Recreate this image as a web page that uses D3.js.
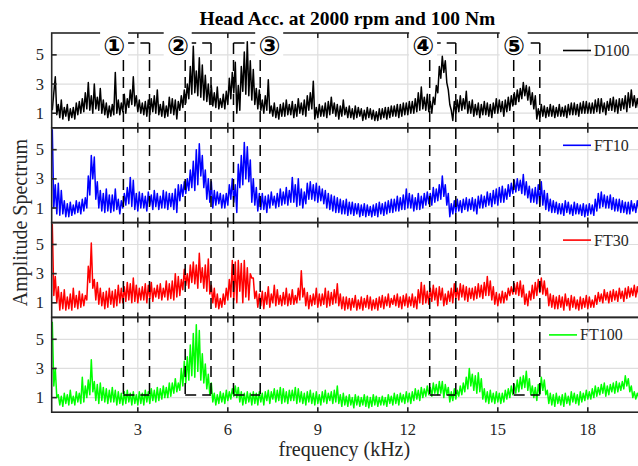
<!DOCTYPE html>
<html>
<head>
<meta charset="utf-8">
<script src="https://cdn.jsdelivr.net/npm/d3@7"></script>
<style>
  body { margin: 0; background: #fff; }
  svg { display: block; }
</style>
</head>
<body>
<svg id="chart" width="638" height="466"></svg>
<script>
// ---- data -------------------------------------------------------------
const chartTitle = "Head Acc. at 2000 rpm and 100 Nm";
const xLabel = "frequency (kHz)";
const yLabel = "Amplitude Spectrum";
const seriesNames = ["D100", "FT10", "FT30", "FT100"];

// spectra sampled every 0.05 kHz starting at 0.15 kHz (20 samples per row = 1 kHz)
const freqStart = 0.15;
const freqStep = 0.05;

const d100 = [
  1.2, 2.4, 3.5, 0.9, 1.6, 0.7, 1.9, 0.6, 1.4, 0.8, 1.6, 0.5, 1.3, 0.7, 1.4, 0.6, 1.7, 0.9, 1.8, 1.0,
  2.0, 1.1, 2.4, 1.3, 3.1, 1.2, 2.2, 1.0, 3.0, 1.3, 2.1, 1.2, 2.7, 1.0, 1.9, 0.9, 1.7, 0.7, 1.5, 0.8,
  1.6, 0.9, 3.8, 1.0, 1.9, 0.9, 1.7, 1.1, 2.3, 1.0, 2.0, 1.4, 2.6, 1.6, 3.5, 1.5, 2.2, 1.1, 1.9, 1.0,
  1.7, 0.9, 1.8, 0.8, 1.9, 0.9, 2.0, 1.1, 2.2, 1.0, 2.6, 0.9, 1.6, 0.8, 1.8, 0.7, 1.5, 0.8, 2.1, 1.0,
  2.0, 0.9, 1.9, 0.6, 1.8, 1.2, 2.2, 1.4, 2.6, 1.7, 3.0, 2.0, 4.2, 2.3, 5.6, 2.4, 3.9, 2.2, 4.8, 2.1,
  4.3, 1.9, 3.6, 1.8, 3.0, 1.6, 2.9, 1.5, 2.4, 1.4, 2.8, 1.3, 2.0, 1.4, 2.3, 1.3, 2.5, 1.6, 3.4, 2.0,
  3.8, 2.4, 4.5, 1.0, 2.9, 1.2, 4.2, 2.5, 5.2, 2.3, 5.9, 2.2, 4.6, 1.9, 4.0, 1.6, 2.7, 1.3, 2.6, 1.2,
  1.9, 1.0, 2.2, 1.2, 3.3, 1.0, 1.5, 0.8, 1.7, 0.7, 1.4, 0.6, 1.6, 0.8, 1.7, 0.8, 1.9, 0.9, 1.6, 0.9,
  1.8, 0.7, 1.6, 0.8, 2.0, 1.0, 1.7, 0.9, 1.9, 0.8, 2.2, 1.2, 2.4, 1.3, 3.2, 0.6, 1.4, 0.7, 1.6, 0.8,
  1.5, 0.8, 1.7, 0.7, 1.8, 0.9, 2.1, 1.0, 1.7, 0.8, 1.6, 0.6, 1.5, 0.8, 1.9, 0.9, 1.4, 0.7, 1.5, 0.7,
  1.3, 0.6, 1.5, 0.7, 1.4, 0.8, 1.3, 0.5, 1.2, 0.6, 1.4, 0.7, 1.3, 0.6, 1.2, 0.5, 1.1, 0.5, 1.3, 0.6,
  1.3, 0.7, 1.4, 0.6, 1.4, 0.7, 1.5, 0.8, 1.5, 0.8, 1.6, 0.7, 1.6, 0.8, 1.7, 0.9, 1.7, 0.9, 1.8, 1.0,
  1.8, 1.0, 2.0, 1.1, 2.4, 1.2, 2.8, 1.3, 2.1, 1.2, 2.3, 1.1, 1.8, 1.0, 2.1, 1.6, 2.9, 2.4, 4.2, 3.4,
  4.9, 3.8, 4.6, 3.1, 2.6, 1.6, 1.2, 0.5, 1.8, 1.0, 1.9, 1.1, 2.2, 1.2, 2.0, 1.3, 2.5, 1.0, 1.8, 1.0,
  1.9, 0.8, 1.6, 0.9, 1.7, 0.7, 1.6, 0.9, 1.8, 0.9, 1.7, 0.8, 1.6, 0.7, 1.7, 1.0, 2.0, 1.0, 1.9, 1.1,
  1.8, 0.8, 1.9, 1.1, 2.1, 1.2, 2.2, 1.5, 2.4, 1.6, 2.6, 1.8, 2.7, 2.0, 3.1, 2.2, 2.9, 1.9, 2.8, 1.6,
  2.4, 1.3, 2.2, 0.6, 1.3, 0.7, 1.6, 0.8, 1.5, 0.7, 1.4, 0.8, 1.6, 0.8, 1.5, 0.7, 1.4, 0.8, 1.6, 0.8,
  1.4, 0.8, 1.5, 0.7, 1.6, 0.9, 1.7, 0.9, 1.7, 0.9, 1.6, 0.8, 1.7, 1.0, 1.8, 1.0, 1.8, 1.0, 1.7, 1.0,
  1.7, 1.0, 1.9, 1.1, 2.0, 1.0, 2.0, 1.1, 1.7, 0.9, 1.8, 1.2, 2.0, 1.2, 2.1, 1.1, 1.9, 1.0, 2.0, 1.2,
  2.0, 1.3, 2.2, 1.1, 2.4, 1.4, 2.6, 1.5, 2.2, 1.4, 2.0, 1.3
];

const ft10 = [
  6.4, 1.0, 2.6, 0.6, 2.7, 0.5, 2.2, 0.6, 1.5, 0.4, 1.3, 0.4, 1.4, 0.5, 1.2, 0.6, 1.5, 0.7, 1.4, 0.6,
  1.6, 0.8, 1.7, 1.0, 3.2, 1.9, 4.6, 3.0, 4.5, 1.6, 2.8, 1.0, 2.2, 0.8, 2.0, 0.7, 2.3, 0.8, 1.9, 0.7,
  1.9, 0.8, 2.3, 0.9, 1.6, 0.6, 1.5, 1.0, 2.0, 1.2, 2.4, 1.3, 3.1, 1.1, 2.9, 0.9, 2.0, 0.8, 2.1, 1.0,
  2.0, 1.0, 1.8, 0.8, 2.1, 1.2, 1.9, 0.9, 2.2, 1.1, 2.0, 0.9, 1.8, 1.0, 2.2, 1.0, 2.1, 0.9, 2.0, 1.1,
  2.0, 0.9, 2.3, 0.7, 2.6, 1.5, 2.6, 1.8, 2.8, 2.0, 3.0, 2.2, 3.6, 2.4, 4.2, 2.2, 5.0, 2.6, 5.4, 3.2,
  4.6, 2.4, 3.6, 1.6, 3.0, 1.4, 2.8, 1.0, 2.2, 1.2, 2.1, 1.3, 2.0, 1.0, 1.9, 1.0, 2.0, 1.2, 2.6, 1.6,
  3.0, 1.4, 2.6, 0.7, 4.0, 2.4, 4.6, 2.6, 5.5, 3.0, 5.2, 2.8, 4.3, 1.4, 3.0, 1.2, 2.4, 0.8, 2.0, 0.9,
  2.0, 0.9, 1.8, 0.7, 1.9, 1.0, 2.1, 1.2, 1.8, 1.0, 2.0, 1.1, 2.3, 1.2, 2.1, 1.3, 2.4, 1.2, 2.2, 1.4,
  3.1, 1.4, 2.6, 1.1, 3.0, 1.2, 2.3, 1.0, 2.1, 1.3, 2.7, 1.6, 2.8, 1.6, 2.6, 1.5, 2.7, 1.4, 2.5, 1.5,
  2.3, 1.3, 2.2, 1.0, 2.0, 0.9, 1.9, 0.8, 1.8, 0.7, 1.7, 0.7, 1.6, 0.6, 1.5, 0.6, 1.6, 0.5, 1.4, 0.6,
  1.4, 0.5, 1.3, 0.6, 1.3, 0.4, 1.2, 0.5, 1.3, 0.4, 1.2, 0.5, 1.1, 0.4, 1.2, 0.5, 1.3, 0.4, 1.4, 0.6,
  1.3, 0.5, 1.4, 0.6, 1.5, 0.7, 1.6, 0.7, 1.6, 0.8, 1.8, 0.8, 1.7, 0.9, 1.9, 0.9, 2.3, 1.0, 2.0, 1.0,
  1.9, 0.8, 1.7, 0.9, 2.0, 0.9, 1.8, 1.0, 2.0, 1.2, 2.1, 1.3, 2.0, 1.2, 2.4, 1.4, 2.3, 1.5, 2.6, 1.6,
  3.2, 1.8, 2.6, 1.2, 2.0, 0.4, 1.3, 0.6, 1.5, 0.7, 1.6, 0.8, 1.5, 0.7, 1.6, 0.9, 1.7, 0.8, 1.6, 0.9,
  1.7, 0.8, 1.6, 0.6, 1.8, 1.0, 1.9, 1.0, 1.8, 1.1, 2.1, 1.2, 2.0, 1.1, 2.2, 1.3, 2.3, 1.2, 2.4, 1.4,
  2.5, 1.4, 2.3, 1.6, 2.6, 1.8, 2.7, 2.0, 2.9, 2.1, 3.0, 2.2, 2.9, 2.0, 3.3, 1.9, 2.8, 1.7, 2.5, 1.4,
  2.3, 1.4, 2.4, 1.3, 2.6, 1.2, 2.8, 1.2, 2.2, 0.9, 2.0, 0.8, 1.6, 0.7, 1.5, 0.7, 1.4, 0.6, 1.3, 0.6,
  1.3, 0.5, 1.5, 0.7, 1.4, 0.6, 1.2, 0.5, 1.4, 0.6, 1.3, 0.6, 1.2, 0.5, 1.3, 0.4, 1.2, 0.5, 1.3, 0.6,
  1.2, 0.5, 1.6, 0.8, 2.0, 1.0, 2.1, 1.1, 1.9, 1.0, 1.8, 1.0, 1.9, 0.9, 1.7, 0.8, 1.6, 0.8, 1.6, 0.7,
  1.5, 0.7, 1.4, 0.6, 1.4, 0.6, 1.5, 0.8, 1.3, 0.7, 1.5, 0.9
];

const ft30 = [
  6.4, 1.5, 2.8, 1.0, 2.1, 0.5, 1.7, 0.6, 1.9, 0.5, 1.4, 0.6, 1.6, 0.5, 2.0, 0.7, 1.5, 0.6, 1.8, 0.7,
  1.6, 0.8, 1.5, 1.2, 3.5, 2.4, 5.1, 2.0, 2.6, 1.2, 2.4, 0.9, 2.0, 0.8, 1.7, 0.6, 1.8, 0.7, 2.0, 0.9,
  1.8, 0.7, 1.9, 0.8, 2.2, 1.0, 2.0, 1.0, 2.1, 1.1, 2.4, 1.2, 2.3, 1.0, 2.7, 1.1, 2.2, 1.0, 2.0, 1.2,
  2.1, 1.2, 2.3, 1.0, 2.2, 1.3, 2.4, 1.1, 2.0, 1.4, 2.2, 1.3, 2.3, 1.2, 2.0, 1.4, 2.5, 1.2, 2.3, 1.3,
  2.5, 1.2, 3.0, 1.4, 2.8, 1.5, 2.6, 1.9, 3.3, 2.2, 3.0, 2.0, 3.6, 2.4, 3.8, 2.3, 3.6, 2.0, 4.4, 2.4,
  3.4, 2.0, 3.6, 1.8, 4.0, 1.6, 2.2, 1.0, 2.0, 0.7, 1.6, 0.6, 1.3, 0.7, 1.6, 0.9, 2.0, 1.2, 2.6, 1.4,
  3.9, 1.2, 3.8, 1.0, 3.9, 1.8, 3.7, 1.0, 3.9, 1.4, 3.4, 1.2, 3.0, 2.7, 2.7, 1.3, 1.8, 0.7, 1.6, 0.8,
  1.8, 0.6, 1.7, 0.9, 2.1, 0.7, 1.6, 1.0, 2.2, 0.8, 1.9, 0.9, 1.5, 0.8, 1.7, 0.9, 2.0, 0.8, 1.6, 0.9,
  1.9, 0.9, 1.5, 1.0, 2.0, 1.2, 3.2, 1.4, 2.0, 0.8, 1.7, 0.6, 1.5, 0.8, 1.6, 0.9, 2.0, 0.7, 1.6, 0.8,
  1.6, 0.9, 2.0, 0.7, 1.8, 0.8, 1.7, 0.9, 1.9, 1.0, 2.3, 0.8, 1.6, 0.6, 1.4, 0.5, 1.4, 0.6, 1.3, 0.5,
  1.3, 0.7, 1.5, 0.5, 1.2, 0.6, 1.4, 0.5, 1.3, 0.7, 1.5, 0.6, 1.4, 0.5, 1.2, 0.6, 1.3, 0.5, 1.4, 0.7,
  1.5, 0.6, 1.4, 0.8, 1.6, 0.7, 1.3, 0.9, 1.5, 0.8, 1.6, 0.7, 1.4, 0.6, 1.5, 0.8, 1.6, 0.7, 1.4, 0.8,
  1.6, 0.7, 1.4, 0.6, 1.9, 1.0, 2.4, 0.9, 2.2, 1.0, 1.8, 0.9, 2.0, 1.1, 2.2, 1.2, 2.0, 0.8, 2.1, 1.2,
  2.0, 0.8, 1.6, 0.9, 1.8, 1.1, 2.0, 1.0, 2.3, 1.3, 2.0, 1.2, 2.3, 1.4, 2.2, 1.2, 2.1, 1.1, 2.0, 1.3,
  2.0, 1.2, 2.1, 1.3, 2.3, 1.4, 2.2, 1.3, 2.4, 1.5, 2.8, 1.5, 2.5, 1.2, 2.1, 0.9, 1.7, 0.8, 1.6, 1.0,
  1.8, 1.0, 1.7, 1.2, 2.0, 1.5, 2.1, 1.6, 2.3, 1.6, 2.4, 1.5, 2.5, 1.4, 2.2, 0.9, 1.6, 0.8, 1.8, 1.2,
  2.2, 1.3, 2.4, 1.5, 2.6, 1.7, 2.7, 1.6, 2.5, 1.5, 2.0, 0.8, 1.6, 0.7, 1.5, 0.6, 1.4, 0.6, 1.5, 0.7,
  1.4, 0.5, 1.6, 0.8, 1.3, 0.5, 1.5, 0.7, 1.4, 0.6, 1.2, 0.5, 1.4, 0.6, 1.3, 0.7, 1.5, 0.6, 1.4, 0.7,
  1.2, 0.7, 1.5, 0.9, 1.7, 1.1, 1.6, 1.0, 1.9, 1.2, 1.7, 1.0, 1.8, 1.1, 1.9, 1.2, 1.8, 1.1, 2.0, 1.3,
  1.8, 1.1, 2.0, 1.3, 2.1, 1.4, 2.0, 1.5, 2.2, 1.4, 2.1, 1.5
];

const ft100 = [
  6.2, 1.8, 3.0, 1.0, 1.2, 0.5, 1.1, 0.4, 1.3, 0.6, 1.2, 0.5, 1.5, 0.6, 1.1, 0.5, 1.4, 0.7, 1.3, 0.6,
  2.4, 0.7, 1.8, 1.0, 2.2, 1.2, 3.6, 1.4, 2.1, 0.8, 1.9, 0.6, 2.0, 0.8, 1.7, 0.7, 1.6, 0.6, 1.5, 0.7,
  1.7, 0.7, 1.5, 0.5, 1.4, 0.6, 1.3, 0.5, 1.4, 0.6, 1.5, 0.7, 1.3, 0.5, 1.4, 0.6, 1.2, 0.5, 1.4, 0.6,
  1.3, 0.5, 1.5, 0.7, 1.4, 0.6, 1.6, 0.8, 1.5, 0.7, 1.7, 0.8, 1.6, 0.9, 1.8, 1.0, 1.7, 1.0, 2.0, 1.1,
  2.0, 1.3, 2.3, 1.4, 2.0, 1.5, 3.0, 1.8, 3.5, 2.0, 3.8, 2.2, 4.6, 2.5, 5.4, 2.4, 6.0, 2.8, 5.6, 2.2,
  4.0, 2.0, 3.3, 1.6, 2.6, 1.2, 2.0, 0.7, 1.3, 0.5, 1.2, 0.6, 1.4, 0.7, 1.3, 0.6, 1.5, 0.8, 1.4, 0.9,
  1.6, 1.1, 1.8, 1.0, 1.7, 0.7, 1.4, 0.5, 1.3, 0.6, 1.4, 0.7, 1.3, 0.5, 1.4, 0.6, 1.3, 0.5, 1.4, 0.7,
  1.3, 0.5, 1.4, 0.8, 1.5, 0.6, 1.4, 0.9, 1.6, 0.7, 1.5, 0.8, 1.7, 0.6, 1.6, 0.7, 1.4, 0.6, 1.5, 0.8,
  1.5, 0.8, 1.7, 0.6, 1.6, 0.7, 1.4, 0.6, 1.3, 0.5, 1.4, 0.7, 1.5, 0.6, 1.3, 0.5, 1.4, 0.6, 1.2, 0.5,
  1.4, 0.7, 1.5, 0.6, 1.3, 0.8, 1.4, 0.6, 1.5, 0.7, 1.8, 0.6, 1.2, 0.4, 1.3, 0.5, 1.1, 0.4, 1.2, 0.5,
  1.0, 0.3, 1.2, 0.5, 1.1, 0.4, 1.0, 0.5, 1.2, 0.4, 1.1, 0.3, 1.0, 0.4, 1.2, 0.5, 1.1, 0.4, 1.0, 0.5,
  1.1, 0.5, 1.0, 0.4, 1.2, 0.6, 1.1, 0.5, 1.3, 0.6, 1.2, 0.5, 1.3, 0.7, 1.2, 0.6, 1.4, 0.7, 1.3, 0.6,
  1.4, 0.8, 1.6, 0.9, 1.5, 0.8, 1.7, 1.0, 1.6, 1.1, 1.8, 1.2, 1.7, 1.1, 2.0, 1.3, 1.9, 1.2, 2.1, 1.3,
  2.1, 1.0, 1.9, 1.2, 1.7, 0.7, 1.4, 0.8, 1.6, 0.9, 1.5, 1.1, 1.8, 1.2, 2.0, 1.4, 2.4, 1.6, 3.0, 1.8,
  2.6, 1.5, 2.5, 1.3, 2.7, 1.4, 2.3, 0.9, 1.6, 0.7, 1.4, 0.6, 1.5, 0.7, 1.3, 0.6, 1.4, 0.7, 1.3, 0.6,
  1.3, 0.7, 1.5, 0.9, 1.6, 1.0, 1.8, 1.2, 1.9, 1.3, 2.2, 1.4, 2.4, 1.6, 2.5, 1.7, 2.8, 1.5, 2.3, 1.2,
  1.8, 1.0, 1.7, 0.8, 1.9, 1.2, 2.4, 1.5, 2.2, 1.2, 1.5, 0.6, 1.3, 0.5, 1.2, 0.4, 1.3, 0.6, 1.1, 0.5,
  1.2, 0.4, 1.3, 0.6, 1.1, 0.5, 1.4, 0.7, 1.3, 0.6, 1.2, 0.5, 1.4, 0.7, 1.3, 0.8, 1.5, 0.9, 1.4, 0.9,
  1.6, 1.0, 1.8, 1.1, 1.7, 1.2, 1.9, 1.3, 2.0, 1.1, 1.8, 1.2, 1.9, 1.4, 2.0, 1.3, 2.1, 1.4, 2.0, 1.5,
  2.1, 1.6, 2.5, 1.8, 2.3, 1.4, 1.8, 1.0, 1.4, 0.9, 1.3, 1.0
];

const xTickValues = [3, 6, 9, 12, 15, 18];
const yTickValues = [1, 3, 5];

// highlighted frequency bands (kHz) and their markers
const bandRanges = [[2.52, 3.39], [4.58, 5.44], [6.19, 7.08], [12.73, 13.6], [15.53, 16.4]];
const bandMarks = ["①", "②", "③", "④", "⑤"];

// ---- layout -----------------------------------------------------------
const seriesData = [d100, ft10, ft30, ft100];
const seriesColors = ["#000000", "#0000ff", "#ff0000", "#00ff00"];
const legendTextX = [594, 594, 594, 580];
const bandMarkX = [2.21, 4.33, 7.38, 12.51, 15.53];   // kHz
const bandTop = 5.81;      // value on the first panel
const bandBottom = 1.18;   // value on the last panel

const plotLeft = 51.7, plotRight = 639.7;
const plotTop = 33, panelH = 94.8;
const axisColor = "#262626";
const serif = "'Liberation Serif', 'Times New Roman', serif";

const svg = d3.select("#chart");

const x = d3.scaleLinear().domain([0.13, 19.73]).range([plotLeft, plotRight]);
const yScales = seriesData.map((_, i) =>
  d3.scaleLinear().domain([0, 6.5])
    .range([plotTop + (i + 1) * panelH, plotTop + i * panelH]));

const defs = svg.append("defs");

seriesData.forEach((vals, i) => {
  const y = yScales[i];
  const top = y.range()[1], bottom = y.range()[0];
  const g = svg.append("g");

  // grid
  g.selectAll("line.vg").data(xTickValues).join("line")
    .attr("x1", d => x(d)).attr("x2", d => x(d))
    .attr("y1", top).attr("y2", bottom)
    .attr("stroke", "#dedede").attr("stroke-width", 1.2);
  g.selectAll("line.hg").data(yTickValues).join("line")
    .attr("x1", plotLeft).attr("x2", plotRight)
    .attr("y1", d => y(d)).attr("y2", d => y(d))
    .attr("stroke", "#dedede").attr("stroke-width", 1.2);

  // trace
  const clipId = "clip" + i;
  defs.append("clipPath").attr("id", clipId)
    .append("rect").attr("x", plotLeft).attr("y", top)
    .attr("width", plotRight - plotLeft).attr("height", bottom - top);

  const line = d3.line()
    .x((d, k) => x(freqStart + k * freqStep))
    .y(d => y(d));
  g.append("path").datum(vals)
    .attr("clip-path", `url(#${clipId})`)
    .attr("d", line)
    .attr("fill", "none")
    .attr("stroke", seriesColors[i])
    .attr("stroke-width", 1.5)
    .attr("stroke-linejoin", "round");

  // frame
  g.append("rect")
    .attr("x", plotLeft).attr("y", top)
    .attr("width", plotRight - plotLeft).attr("height", bottom - top)
    .attr("fill", "none").attr("stroke", axisColor).attr("stroke-width", 1.6);

  // inward ticks
  xTickValues.forEach(t => {
    g.append("line").attr("x1", x(t)).attr("x2", x(t))
      .attr("y1", bottom).attr("y2", bottom - 5)
      .attr("stroke", axisColor).attr("stroke-width", 1.6);
    g.append("line").attr("x1", x(t)).attr("x2", x(t))
      .attr("y1", top).attr("y2", top + 5)
      .attr("stroke", axisColor).attr("stroke-width", 1.6);
  });
  yTickValues.forEach(t => {
    g.append("line").attr("x1", plotLeft).attr("x2", plotLeft + 5)
      .attr("y1", y(t)).attr("y2", y(t))
      .attr("stroke", axisColor).attr("stroke-width", 1.6);
  });

  // y tick labels
  g.selectAll("text.yl").data(yTickValues).join("text")
    .attr("x", 44).attr("y", d => y(d) + 5.5)
    .attr("text-anchor", "end")
    .attr("font-family", serif).attr("font-size", 16.5)
    .attr("fill", axisColor)
    .text(d => d);

  // legend
  const ly = top + 17.5;
  g.append("line")
    .attr("x1", legendTextX[i] - 31).attr("x2", legendTextX[i] - 3)
    .attr("y1", ly).attr("y2", ly)
    .attr("stroke", seriesColors[i]).attr("stroke-width", 1.6);
  g.append("text")
    .attr("x", legendTextX[i]).attr("y", ly + 5.5)
    .attr("font-family", serif).attr("font-size", 16)
    .attr("fill", axisColor)
    .text(seriesNames[i]);
});

// x tick labels on the bottom panel
const yLast = yScales[yScales.length - 1];
svg.selectAll("text.xl").data(xTickValues).join("text")
  .attr("x", d => x(d)).attr("y", yLast.range()[0] + 23)
  .attr("text-anchor", "middle")
  .attr("font-family", serif).attr("font-size", 16.5)
  .attr("fill", axisColor)
  .text(d => d);

// dashed frequency bands spanning all panels
const yFirst = yScales[0];
const bandG = svg.append("g")
  .attr("fill", "none").attr("stroke", "#000")
  .attr("stroke-width", 1.5).attr("stroke-dasharray", "11,6");
bandRanges.forEach(([f0, f1]) => {
  const yt = yFirst(bandTop), yb = yLast(bandBottom);
  bandG.append("line").attr("x1", x(f0)).attr("x2", x(f0)).attr("y1", yt).attr("y2", yb);
  bandG.append("line").attr("x1", x(f1)).attr("x2", x(f1)).attr("y1", yt).attr("y2", yb);
  bandG.append("line").attr("x1", x(f0)).attr("x2", x(f1)).attr("y1", yt).attr("y2", yt);
  bandG.append("line").attr("x1", x(f0)).attr("x2", x(f1)).attr("y1", yb).attr("y2", yb);
});

// band markers with white backing
bandMarks.forEach((m, i) => {
  const cx = x(bandMarkX[i]);
  svg.append("rect")
    .attr("x", cx - 14).attr("y", 31).attr("width", 28).attr("height", 29)
    .attr("fill", "#fff");
  svg.append("text")
    .attr("x", cx).attr("y", 54.5)
    .attr("text-anchor", "middle")
    .attr("font-family", "'DejaVu Sans', 'Noto Sans CJK SC', sans-serif")
    .attr("font-weight", "bold")
    .attr("font-size", 26)
    .attr("fill", "#000")
    .text(m);
});

// title and axis labels
svg.append("text")
  .attr("x", (plotLeft + 637) / 2 + 3).attr("y", 25)
  .attr("text-anchor", "middle")
  .attr("font-family", serif).attr("font-weight", "bold").attr("font-size", 19.5)
  .attr("fill", "#000")
  .text(chartTitle);

svg.append("text")
  .attr("x", (plotLeft + 637) / 2).attr("y", 456)
  .attr("text-anchor", "middle")
  .attr("font-family", serif).attr("font-size", 20)
  .attr("fill", axisColor)
  .text(xLabel);

svg.append("text")
  .attr("transform", `translate(27,${plotTop + 2 * panelH}) rotate(-90)`)
  .attr("text-anchor", "middle")
  .attr("font-family", serif).attr("font-size", 20)
  .attr("fill", axisColor)
  .text(yLabel);
</script>
</body>
</html>
